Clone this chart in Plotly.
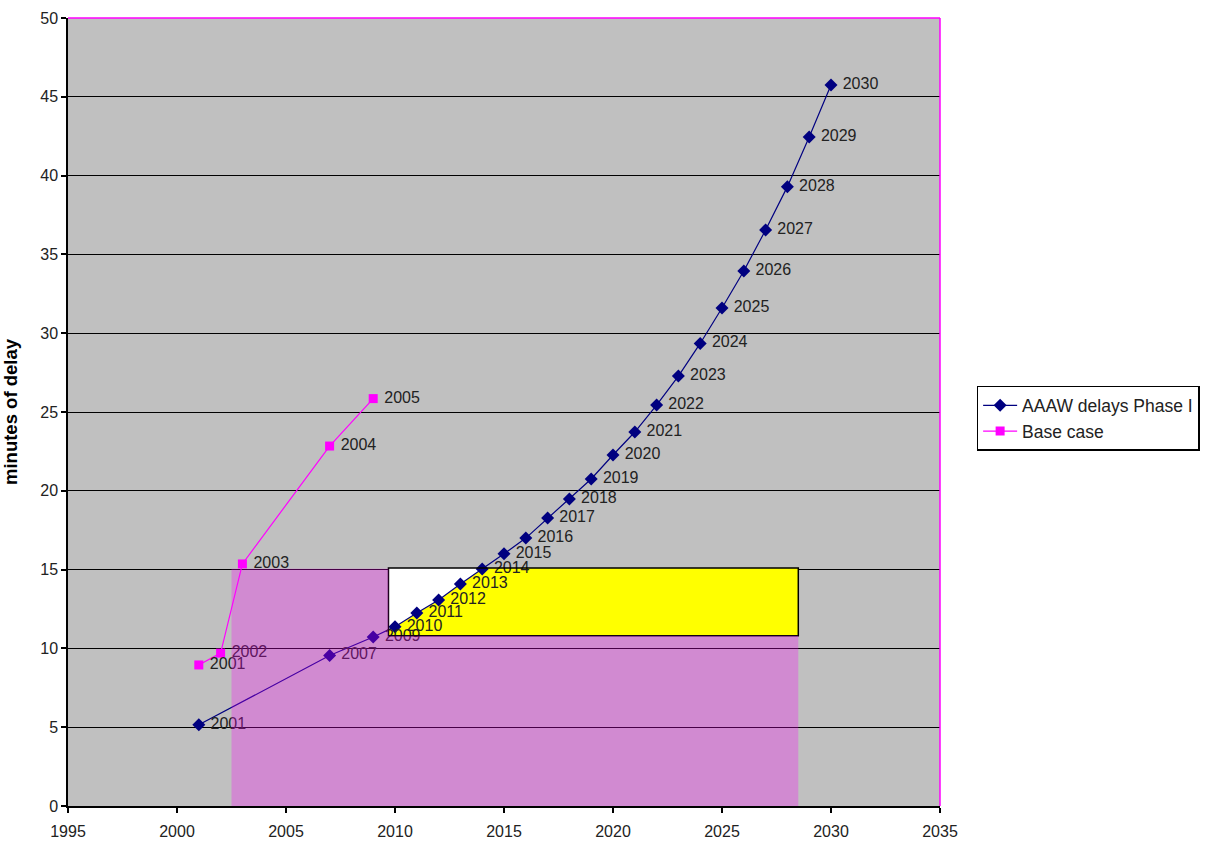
import plotly.graph_objects as go

# ---- data ----
aaaw_years = [2001, 2007, 2009, 2010, 2011, 2012, 2013, 2014, 2015, 2016, 2017, 2018, 2019,
              2020, 2021, 2022, 2023, 2024, 2025, 2026, 2027, 2028, 2029, 2030]
aaaw_delay = [5.15, 9.55, 10.72, 11.38, 12.25, 13.07, 14.09, 15.04, 16.0, 17.0, 18.27, 19.48,
              20.75, 22.27, 23.73, 25.44, 27.28, 29.35, 31.6, 33.95, 36.55, 39.3, 42.45, 45.75]
aaaw_labels = [str(y) for y in aaaw_years]

base_x = [2001, 2002, 2003, 2007, 2009]
base_delay = [8.95, 9.7, 15.36, 22.84, 25.85]
base_labels = ["2001", "2002", "2003", "2004", "2005"]

# highlighted regions (years / minutes)
pink_x = [2002.5, 2028.5]
pink_y = [0, 15.05]
box_x = [2009.7, 2028.5]
box_y = [10.8, 15.1]

FONT = "Liberation Sans, Arial, sans-serif"

fig = go.Figure()
fig.add_trace(go.Scatter(
    x=aaaw_years, y=aaaw_delay, name="AAAW delays Phase I", legendgroup="a",
    mode="lines+markers+text", text=[" " + t for t in aaaw_labels], textposition="middle right",
    textfont=dict(family=FONT, size=16, color="#222222"),
    line=dict(color="#000080", width=1.2),
    marker=dict(symbol="diamond", size=10, color="#000080"),
    cliponaxis=False,
))
fig.add_trace(go.Scatter(
    x=base_x, y=base_delay, name="Base case", legendgroup="b",
    mode="lines+markers+text", text=[" " + t for t in base_labels], textposition="middle right",
    textfont=dict(family=FONT, size=16, color="#222222"),
    line=dict(color="#FF00FF", width=1.2),
    marker=dict(symbol="square", size=9, color="#FF00FF"),
    cliponaxis=False,
))

shapes = []
# white box
shapes.append(dict(type="rect", xref="x", yref="y", x0=box_x[0], x1=box_x[1], y0=box_y[0], y1=box_y[1],
                   fillcolor="white", line=dict(width=0), layer="between"))
# yellow area below the curve inside the box
pts = [(x, y) for x, y in zip(aaaw_years, aaaw_delay) if box_x[0] < x and y < box_y[1]]
x_left_y = aaaw_delay[2] + (aaaw_delay[3] - aaaw_delay[2]) * (box_x[0] - aaaw_years[2]) / (aaaw_years[3] - aaaw_years[2])
i15 = next(i for i, y in enumerate(aaaw_delay) if y >= box_y[1])
xt = aaaw_years[i15 - 1] + (box_y[1] - aaaw_delay[i15 - 1]) * (aaaw_years[i15] - aaaw_years[i15 - 1]) / (aaaw_delay[i15] - aaaw_delay[i15 - 1])
path = f"M {box_x[0]},{box_y[0]} L {box_x[0]},{x_left_y} "
for x, y in pts:
    path += f"L {x},{y} "
path += f"L {xt},{box_y[1]} L {box_x[1]},{box_y[1]} L {box_x[1]},{box_y[0]} Z"
shapes.append(dict(type="path", xref="x", yref="y", path=path, fillcolor="#FFFF00",
                   line=dict(width=0), layer="between"))
shapes.append(dict(type="rect", xref="x", yref="y", x0=box_x[0], x1=box_x[1], y0=box_y[0], y1=box_y[1],
                   fillcolor="rgba(0,0,0,0)", line=dict(color="black", width=1.5), layer="above"))
# translucent pink overlay (L-shape around the box)
pink_path = (f"M {pink_x[0]},{pink_y[0]} L {pink_x[1]},{pink_y[0]} L {pink_x[1]},{box_y[0]} "
             f"L {box_x[0]},{box_y[0]} L {box_x[0]},{pink_y[1]} L {pink_x[0]},{pink_y[1]} Z")
shapes.append(dict(type="path", xref="x", yref="y", path=pink_path,
                   fillcolor="rgba(255,0,255,0.28)", line=dict(width=0), layer="above"))
# magenta top/right borders
shapes.append(dict(type="line", xref="paper", yref="paper", x0=0, x1=1, y0=1, y1=1,
                   line=dict(color="#FF00FF", width=1.5), layer="above"))
shapes.append(dict(type="line", xref="paper", yref="paper", x0=1, x1=1, y0=0, y1=1,
                   line=dict(color="#FF00FF", width=1.5), layer="above"))

fig.update_layout(
    width=1217, height=856,
    margin=dict(l=68, r=277, t=18, b=50, pad=0),
    paper_bgcolor="white", plot_bgcolor="#C0C0C0",
    font=dict(family=FONT, size=16, color="#222222"),
    showlegend=True,
    legend=dict(x=1.042, y=0.533, xanchor="left", yanchor="top",
                bgcolor="white", bordercolor="black", borderwidth=1.5,
                font=dict(family=FONT, size=17.5, color="#222222"),
                tracegroupgap=0, itemwidth=34),
    shapes=shapes,
    xaxis=dict(range=[1995, 2035], tickmode="linear", tick0=1995, dtick=5, automargin=False,
               showgrid=False, zeroline=False, showline=True, linecolor="black", linewidth=1.5,
               ticks="outside", ticklen=5, tickcolor="black", tickwidth=1.5, ticklabelstandoff=5,
               tickfont=dict(family=FONT, size=16, color="#222222")),
    yaxis=dict(range=[0, 50], tickmode="linear", tick0=0, dtick=5, automargin=False,
               showgrid=True, gridcolor="black", gridwidth=1.2, zeroline=False,
               showline=True, linecolor="black", linewidth=1.5,
               ticks="outside", ticklen=5, tickcolor="black", tickwidth=1.5,
               tickfont=dict(family=FONT, size=16, color="#222222"),
               title=dict(text="<b>minutes of delay</b>", font=dict(family=FONT, size=18.5, color="black"),
                          standoff=20)),
)

fig.write_html("out.html")
